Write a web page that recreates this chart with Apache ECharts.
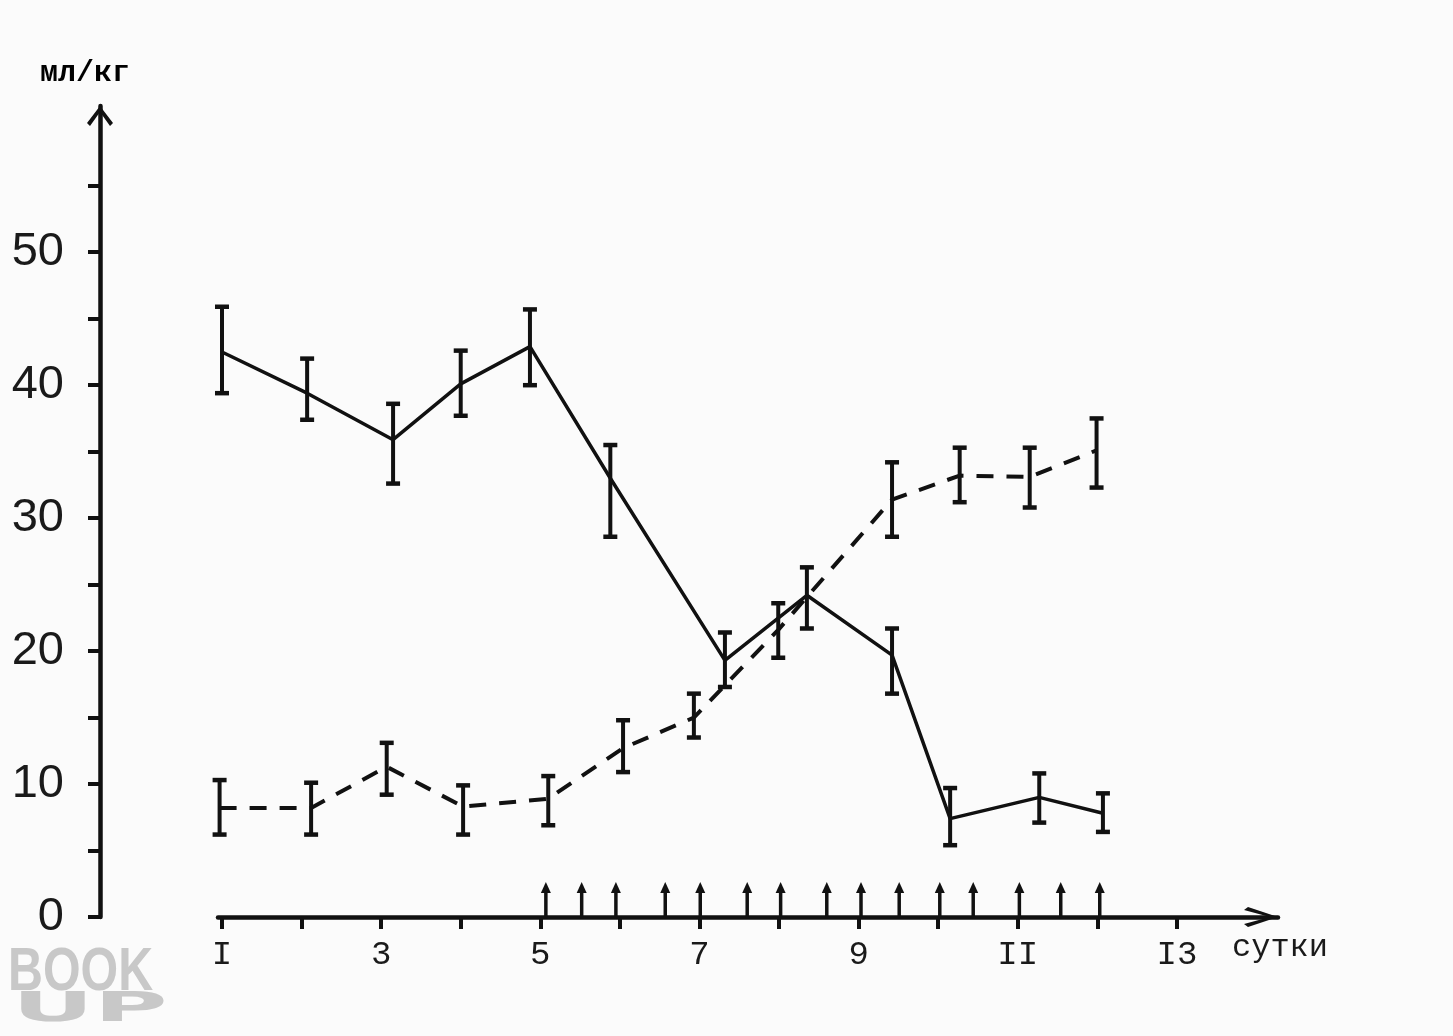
<!DOCTYPE html>
<html>
<head>
<meta charset="utf-8">
<script src="https://cdn.jsdelivr.net/npm/echarts@6/dist/echarts.min.js"></script>
<style>
html,body{margin:0;padding:0;background:#fbfbfb;}
#chart{width:1453px;height:1036px;}
</style>
</head>
<body>
<div id="chart"></div>
<script>
// ---- data (x in days, y in ml/kg) ----
const solidDays  = [1.0, 2.07, 3.15, 4.0, 4.87, 5.88, 7.32, 8.35, 9.42, 10.15, 11.27, 12.07];
const solidMean  = [42.5, 39.4, 35.9, 40.1, 42.9, 33.0, 19.3, 24.2, 19.7, 7.4, 9.0, 7.8];
const solidLow   = [39.4, 37.4, 32.6, 37.7, 40.0, 28.6, 17.3, 21.7, 16.8, 5.4, 7.1, 6.4];
const solidHigh  = [45.9, 42.0, 38.6, 42.6, 45.7, 35.5, 21.4, 26.3, 21.7, 9.7, 10.8, 9.3];

const dashedDays = [0.97, 2.12, 3.07, 4.03, 5.10, 6.04, 6.93, 7.99, 9.42, 10.27, 11.15, 11.99];
const dashedMean = [8.2, 8.2, 11.3, 8.3, 8.9, 12.7, 15.0, 21.6, 31.4, 33.2, 33.1, 35.1];
const dashedLow  = [6.2, 6.2, 9.2, 6.2, 6.9, 10.9, 13.5, 19.5, 28.6, 31.2, 30.8, 32.3];
const dashedHigh = [10.3, 10.1, 13.1, 9.9, 10.6, 14.8, 16.8, 23.6, 34.2, 35.3, 35.3, 37.5];

const arrowDays  = [5.07, 5.52, 5.95, 6.57, 7.01, 7.6, 8.02, 8.6, 9.03, 9.51, 10.02, 10.44, 11.02, 11.54, 12.03];

const xTickDays  = [1,2,3,4,5,6,7,8,9,10,11,12,13];
const xLabelDays = [1,3,5,7,9,11,13];
const xLabelText = {1:'I',3:'3',5:'5',7:'7',9:'9',11:'II',13:'I3'};
const yTickVals  = [0,5,10,15,20,25,30,35,40,45,50,55];
const yLabelVals = [0,10,20,30,40,50];

const INK = '#111';

function zip(a,b){return a.map((v,i)=>[v,b[i]]);}
function zip3(a,b,c){return a.map((v,i)=>[v,b[i],c[i]]);}

function errRender(params, api){
  const x = api.value(0), lo = api.value(1), hi = api.value(2);
  const pLo = api.coord([x, lo]), pHi = api.coord([x, hi]);
  const cw = 7;
  return {type:'group', children:[
    {type:'line', shape:{x1:pLo[0], y1:pLo[1], x2:pHi[0], y2:pHi[1]}, style:{stroke:INK, lineWidth:4}},
    {type:'line', shape:{x1:pHi[0]-cw, y1:pHi[1], x2:pHi[0]+cw, y2:pHi[1]}, style:{stroke:INK,lineWidth:4.5}},
    {type:'line', shape:{x1:pLo[0]-cw, y1:pLo[1], x2:pLo[0]+cw, y2:pLo[1]}, style:{stroke:INK,lineWidth:4.5}}
  ]};
}

function arrowRender(params, api){
  const p = api.coord([api.value(0), 0]);
  const x = p[0], y = p[1];
  return {type:'group', children:[
    {type:'line', shape:{x1:x, y1:y, x2:x, y2:y-30}, style:{stroke:INK, lineWidth:3.5}},
    {type:'polygon', shape:{points:[[x, y-35],[x-5, y-24],[x+5, y-24]]}, style:{fill:INK}}
  ]};
}

const chart = echarts.init(document.getElementById('chart'), null, {renderer:'canvas'});
chart.setOption({
  backgroundColor: '#fbfbfb',
  animation: false,
  grid: {left: 218, right: 175, top: 106, bottom: 119, containLabel: false, outerBoundsMode: 'none'},
  xAxis: {
    type: 'value', min: 0.95, max: 14.27,
    splitLine: {show: false},
    axisLine: {show: true, onZero: false,
      lineStyle: {color: INK, width: 4.5},
      symbol: ['none', 'path://M10,0 L20,30 L17,34 L10,8 L3,34 L0,30 Z'],
      symbolSize: [20, 34], symbolOffset: [0, -17]},
    axisTick: {show: true, customValues: xTickDays, length: 12, inside: false,
      lineStyle: {color: INK, width: 4}},
    axisLabel: {show: true, customValues: xLabelDays, margin: 21,
      formatter: v => xLabelText[v] || '',
      fontFamily: 'Liberation Mono', fontSize: 34, color: '#1a1a1a'}
  },
  yAxis: {
    type: 'value', min: 0, max: 61, offset: 118,
    splitLine: {show: false},
    axisLine: {show: true, onZero: false,
      lineStyle: {color: INK, width: 4.5},
      symbol: ['none', 'path://M13,0 L26,17 L23,20 L13,6 L3,20 L0,17 Z'],
      symbolSize: [26, 20], symbolOffset: [0, -10]},
    axisTick: {show: true, customValues: yTickVals, length: 12, inside: false,
      lineStyle: {color: INK, width: 4}},
    axisLabel: {show: true, customValues: yLabelVals, margin: 36,
      fontFamily: 'Liberation Sans', fontSize: 47, color: '#1a1a1a'}
  },
  series: [
    {type:'line', name:'solid', data: zip(solidDays, solidMean), symbol:'none',
     lineStyle:{color:INK, width:3.5}, z:3},
    {type:'line', name:'dashed', data: zip(dashedDays, dashedMean), symbol:'none',
     lineStyle:{color:INK, width:4, type:[17,13]}, z:3},
    {type:'custom', name:'solidErr', data: zip3(solidDays, solidLow, solidHigh),
     renderItem: errRender, encode:{x:0, y:[1,2]}, z:4},
    {type:'custom', name:'dashedErr', data: zip3(dashedDays, dashedLow, dashedHigh),
     renderItem: errRender, encode:{x:0, y:[1,2]}, z:4},
    {type:'custom', name:'arrows', data: arrowDays.map(d=>[d]),
     renderItem: arrowRender, encode:{x:0}, z:5, clip:false}
  ],
  graphic: [
    {type:'text', left: 40, top: 58, style:{text:'мл/кг', font:'bold 30px "Liberation Mono"', fill:'#000'}},
    {type:'text', left: 1232, top: 932, style:{text:'сутки', font:'32px "Liberation Mono"', fill:'#1a1a1a'}},
    {type:'text', left: 8, top: 942, scaleX: 0.78, style:{text:'BOOK', font:'bold 62px "Liberation Sans"', fill:'#c8c8c8'}},
    {type:'text', left: 12, top: 990, scaleX: 2.1, scaleY: 0.85, style:{text:'UP', font:'bold 48px "DejaVu Sans"', fill:'#c8c8c8'}}
  ]
});
</script>
</body>
</html>
